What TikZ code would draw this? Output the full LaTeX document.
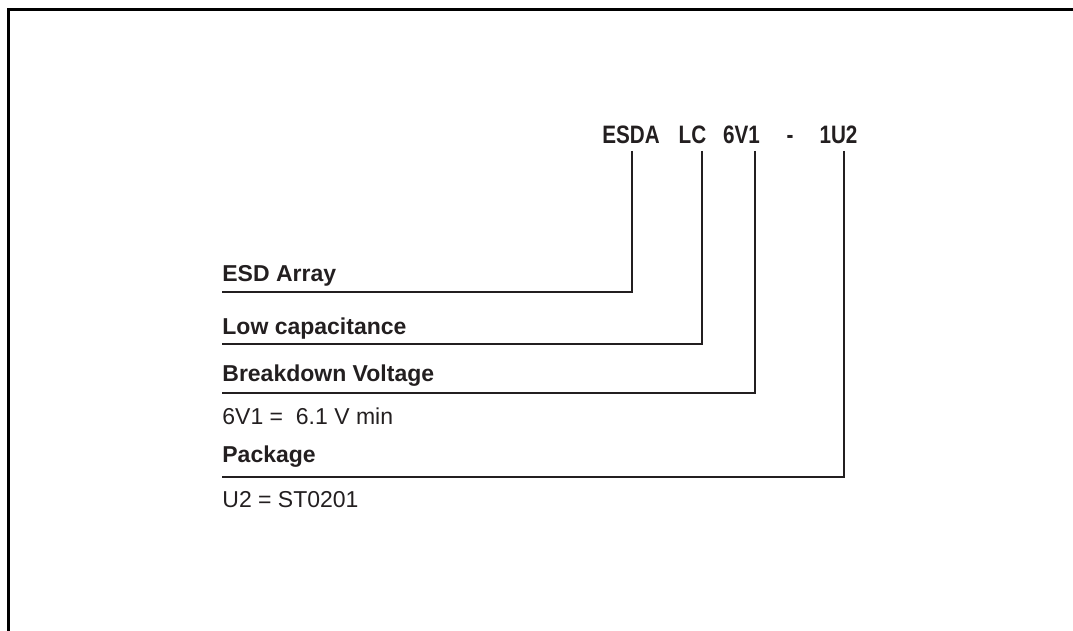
\documentclass[tikz,border=0pt]{standalone}
\usepackage{fontspec}
\setmainfont{Liberation Sans}
\newfontfamily\condfont{Liberation Sans}[FakeStretch=0.82]
\usepackage{tikz}
\usetikzlibrary{positioning}
\definecolor{inkgray}{rgb}{0.137, 0.122, 0.125}

\begin{document}
\begin{tikzpicture}[x=0.5pt, y=-0.5pt,
    codepart/.style={inner sep=0pt, anchor=base, text=inkgray, font=\condfont\bfseries\fontsize{12.6}{14}\selectfont},
    fieldname/.style={inner sep=0pt, anchor=base west, text=inkgray, font=\bfseries\fontsize{11.5}{13}\selectfont},
    fieldvalue/.style={inner sep=0pt, anchor=base west, text=inkgray, font=\fontsize{11.5}{13}\selectfont},
    leader/.style={draw=inkgray, line width=1pt}]
    \useasboundingbox (0,0) rectangle (1073,631);

    % frame
    \draw[line width=1.25pt] (8.5,631) -- (8.5,9.5) -- (1073,9.5);

    % part number
    \node[codepart] (esda) at (631,144) {ESDA};
    \node[codepart] (lc) at (692.5,144) {LC};
    \node[codepart] (vbr) at (741.5,144) {6V1};
    \node[codepart] (dash) at (790,144) {-};
    \node[codepart] (pkg) at (838.5,144) {1U2};

    % fields
    \node[fieldname] (array) at (222,282) {ESD Array};
    \node[fieldname] (lowcap) at (222,335) {Low capacitance};
    \node[fieldname] (breakdown) at (222,381) {Breakdown Voltage};
    \node[fieldvalue] (breakdownval) at (222,424) {6V1 =\ \ 6.1 V min};
    \node[fieldname] (package) at (222,462) {Package};
    \node[fieldvalue] (packageval) at (222,508) {U2 = ST0201};

    \coordinate (esda-t) at (632,151);
    \coordinate (lc-t) at (702,151);
    \coordinate (vbr-t) at (755,151);
    \coordinate (pkg-t) at (844,151);
    \coordinate (array-l) at (222,292);
    \coordinate (lowcap-l) at (222,344);
    \coordinate (breakdown-l) at (222,393);
    \coordinate (package-l) at (222,477);

    \draw[leader] (esda-t) |- (array-l);
    \draw[leader] (lc-t) |- (lowcap-l);
    \draw[leader] (vbr-t) |- (breakdown-l);
    \draw[leader] (pkg-t) |- (package-l);
\end{tikzpicture}
\end{document}
